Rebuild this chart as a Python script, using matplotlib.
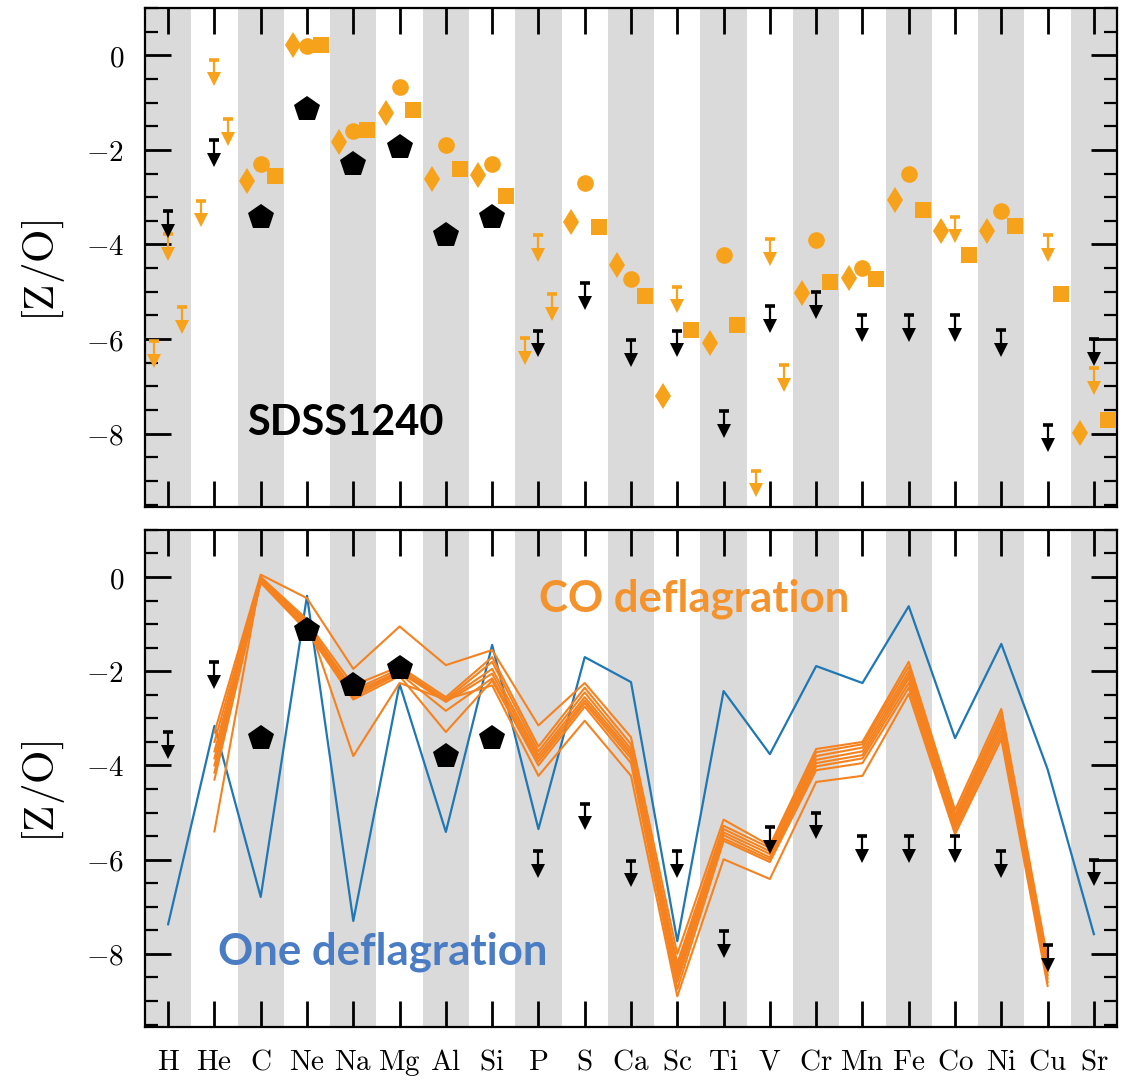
import matplotlib
matplotlib.use('Agg')
import matplotlib.pyplot as plt
import numpy as np
from matplotlib.ticker import MultipleLocator

plt.rcParams['mathtext.fontset'] = 'cm'

# ---------------- data ----------------
elements = ['H', 'He', 'C', 'Ne', 'Na', 'Mg', 'Al', 'Si', 'P', 'S', 'Ca',
            'Sc', 'Ti', 'V', 'Cr', 'Mn', 'Fe', 'Co', 'Ni', 'Cu', 'Sr']

# SDSS1240 detections (pentagons)
det_el = ['C', 'Ne', 'Na', 'Mg', 'Al', 'Si']
det_val = [-3.42, -1.13, -2.29, -1.94, -3.80, -3.42]

# SDSS1240 upper limits
lim_el = ['H', 'He', 'P', 'S', 'Ca', 'Sc', 'Ti', 'V', 'Cr', 'Mn', 'Fe', 'Co', 'Ni', 'Cu', 'Sr']
lim_val = [-3.30, -1.80, -5.82, -4.81, -6.02, -5.82, -7.52, -5.30, -5.00, -5.50,
           -5.50, -5.50, -5.81, -7.82, -6.00]

nan = np.nan
# comparison star A (diamonds), values per element, nan = missing
dia_val = [-6.05, -3.07, -2.65, 0.21, -1.83, -1.23, -2.61, -2.54, -5.97, -3.53, -4.43,
           -7.21, -6.08, -8.78, -5.02, -4.70, -3.06, -3.72, -3.72, nan, -7.98]
dia_lim = [1, 1, 0, 0, 0, 0, 0, 0, 1, 0, 0, 0, 0, 1, 0, 0, 0, 0, 0, 0, 0]
# comparison star B (circles)
cir_val = [-3.78, -0.09, -2.29, 0.19, -1.59, -0.68, -1.90, -2.29, -3.80, -2.70, -4.72,
           -4.89, -4.22, -3.89, -3.91, -4.49, -2.51, -3.41, -3.30, -3.80, -6.61]
cir_lim = [1, 1, 0, 0, 0, 0, 0, 0, 1, 0, 0, 1, 0, 1, 0, 0, 0, 1, 0, 1, 1]
# comparison star C (squares)
sqr_val = [-5.33, -1.34, -2.55, 0.21, -1.57, -1.16, -2.40, -2.97, -5.05, -3.62, -5.09,
           -5.80, -5.71, -6.55, -4.79, -4.72, -3.28, -4.22, -3.60, -5.05, -7.72]
sqr_lim = [1, 1, 0, 0, 0, 0, 0, 0, 1, 0, 0, 0, 0, 1, 0, 0, 0, 0, 0, 0, 0]

# One deflagration model (all elements)
one_defl = [-7.37, -3.16, -6.79, -0.40, -7.30, -2.27, -5.41, -1.44, -5.35, -1.70, -2.23,
            -7.73, -2.42, -3.76, -1.89, -2.25, -0.62, -3.42, -1.42, -4.08, -7.58]

# CO deflagration models (He ... Cu)
co_el = ['He', 'C', 'Ne', 'Na', 'Mg', 'Al', 'Si', 'P', 'S', 'Ca', 'Sc', 'Ti', 'V',
         'Cr', 'Mn', 'Fe', 'Co', 'Ni', 'Cu']
co_models = [
    [-3.30, 0.05, -0.45, -1.95, -1.05, -1.87, -1.55, -3.15, -2.25, -3.40, -8.00, -5.15, -5.70, -3.65, -3.50, -1.80, -4.95, -2.80, -8.10],
    [-3.50, 0.00, -0.95, -2.30, -1.90, -2.55, -1.70, -3.60, -2.35, -3.55, -8.20, -5.28, -5.75, -3.72, -3.55, -1.90, -5.05, -2.90, -8.20],
    [-3.70, -0.02, -1.00, -2.40, -1.95, -2.60, -1.80, -3.70, -2.45, -3.65, -8.30, -5.35, -5.82, -3.80, -3.62, -2.00, -5.12, -3.00, -8.30],
    [-3.85, -0.05, -1.05, -2.45, -2.00, -2.62, -1.95, -3.78, -2.55, -3.72, -8.40, -5.42, -5.88, -3.88, -3.70, -2.08, -5.18, -3.08, -8.38],
    [-4.00, -0.08, -1.10, -2.50, -2.02, -2.65, -2.05, -3.85, -2.62, -3.78, -8.50, -5.48, -5.95, -3.95, -3.78, -2.15, -5.25, -3.15, -8.45],
    [-4.15, -0.10, -1.12, -2.55, -2.05, -2.84, -2.15, -3.92, -2.68, -3.85, -8.60, -5.55, -6.00, -4.02, -3.85, -2.25, -5.32, -3.25, -8.52],
    [-4.30, -0.12, -1.15, -2.60, -2.10, -3.29, -2.20, -4.00, -2.75, -3.95, -8.75, -5.60, -6.05, -4.10, -3.95, -2.35, -5.40, -3.35, -8.60],
    [-5.40, 0.00, -0.90, -3.80, -2.25, -2.60, -2.30, -4.22, -3.05, -4.22, -8.90, -5.99, -6.41, -4.35, -4.22, -2.48, -5.46, -3.44, -8.68],
]

# ---------------- style ----------------
ORANGE_PT = '#F7A21B'
ORANGE_LN = '#F5821F'
BLUE_LN = '#1f77b4'
GREY = '#DADADA'
OFF = 0.3

idx = {e: i for i, e in enumerate(elements)}


def draw_limits(ax, xs, vs, color, z=6):
    xs = np.asarray(xs, float)
    vs = np.asarray(vs, float)
    ax.vlines(xs, vs - 0.33, vs, color=color, lw=1.6, zorder=z)
    ax.plot(xs, vs, ls='none', marker='_', ms=7.5, mew=2.6, color=color, zorder=z)
    ax.plot(xs, vs - 0.42, ls='none', marker='v', ms=9.8, mew=0, color=color, zorder=z)


def style_axes(ax, show_xlabels):
    ax.set_xlim(-0.5, len(elements) - 0.5)
    ax.set_ylim(-9.55, 1.0)
    for i in range(0, len(elements), 2):
        ax.axvspan(i - 0.5, i + 0.5, color=GREY, lw=0, zorder=0)
    ax.set_xticks(range(len(elements)))
    if show_xlabels:
        ax.set_xticklabels([r'$\mathrm{%s}$' % e for e in elements], fontsize=21)
    else:
        ax.set_xticklabels([])
    ax.yaxis.set_major_locator(MultipleLocator(2))
    ax.yaxis.set_minor_locator(MultipleLocator(0.5))
    yt = [0, -2, -4, -6, -8]
    ax.set_yticks(yt)
    ax.set_yticklabels([r'$%d$' % v if v == 0 else r'$-%d$' % abs(v) for v in yt], fontsize=21)
    ax.tick_params(axis='both', which='major', direction='in', length=18.5, width=2.0,
                   top=True, right=True, pad=15)
    ax.tick_params(axis='y', which='minor', direction='in', length=9.5, width=1.6,
                   left=True, right=True)
    ax.tick_params(axis='x', which='minor', bottom=False, top=False)
    for s in ax.spines.values():
        s.set_linewidth(1.6)
    ax.set_ylabel(r'$[\mathrm{Z/O}]$', fontsize=31)
    ax.yaxis.set_label_coords(-0.080, 0.473)


fig = plt.figure(figsize=(11.24, 10.81), dpi=100)
ax1 = fig.add_axes([0.1290, 0.5310, 0.8648, 0.4616])
ax2 = fig.add_axes([0.1290, 0.0500, 0.8648, 0.4598])

# ---------------- top panel ----------------
style_axes(ax1, False)
series = [(dia_val, dia_lim, -OFF, 'd', 13.5),
          (cir_val, cir_lim, 0.0, 'o', 12.0),
          (sqr_val, sqr_lim, OFF, 's', 12.0)]
for vals, lims, off, mk, ms in series:
    xs = np.arange(len(elements)) + off
    v = np.asarray(vals, float)
    l = np.asarray(lims, bool)
    det = ~l & ~np.isnan(v)
    ax1.plot(xs[det], v[det], ls='none', marker=mk, ms=ms, color=ORANGE_PT, mew=0, zorder=4)
    draw_limits(ax1, xs[l], v[l], ORANGE_PT, z=4)

for ax in (ax1, ax2):
    ax.plot([idx[e] for e in det_el], det_val, ls='none', marker='p', ms=19,
            color='black', mew=0, zorder=7)
    draw_limits(ax, [idx[e] for e in lim_el], lim_val, 'black', z=7)

ax1.text(1.71, -8.03, 'SDSS1240', fontsize=30, fontweight='bold', family='Lato',
         color='black', ha='left', va='baseline', zorder=8)

# ---------------- bottom panel ----------------
style_axes(ax2, True)
ax2.plot(range(len(elements)), one_defl, color=BLUE_LN, lw=1.6, zorder=3)
co_x = [idx[e] for e in co_el]
for m in co_models:
    ax2.plot(co_x, m, color=ORANGE_LN, lw=1.5, zorder=4)

ax2.text(8.01, -0.74, 'CO deflagration', fontsize=31.5, fontweight='bold', family='Lato',
         color='#F4922B', ha='left', va='baseline', zorder=8)
ax2.text(1.08, -8.22, 'One deflagration', fontsize=31.5, fontweight='bold', family='Lato',
         color='#4A7CC4', ha='left', va='baseline', zorder=8)

fig.savefig('out.png', dpi=100)
